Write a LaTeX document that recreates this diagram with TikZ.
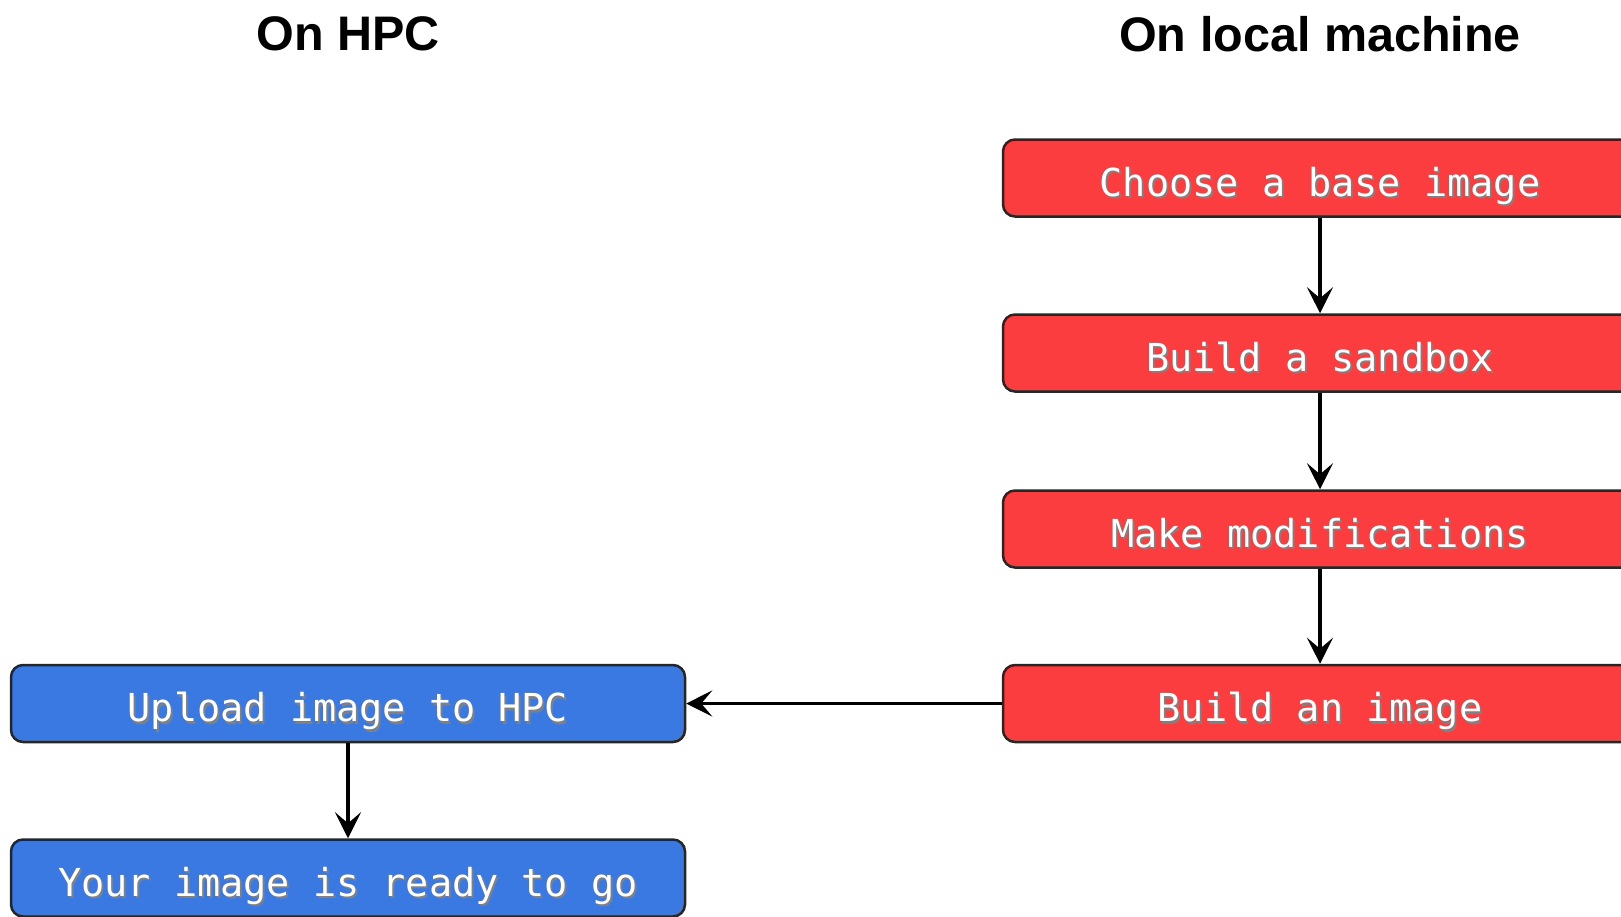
\documentclass[tikz,border=0pt]{standalone}
\usepackage{fontspec}
\setmainfont{Liberation Sans}
\newfontfamily\boxfont{DejaVu Sans Mono}
\usetikzlibrary{arrows.meta}

\definecolor{localred}{HTML}{FC3D40}
\definecolor{hpcblue}{HTML}{3A79E2}

% white label text with a soft drop shadow
\newcommand\shadowed[1]{\rlap{\kern2pt\raisebox{-2.5pt}{\textcolor{black!50}{#1}}}#1}

\tikzset{
  stepbox/.style={draw=black!85, line width=2.5pt, rounded corners=12pt,
    minimum height=77pt, inner sep=0pt, text=white,
    text height=40pt, text depth=4pt,
    font=\boxfont\fontsize{38.5}{40}\selectfont},
  localbox/.style={stepbox, fill=localred, minimum width=634pt},
  hpcbox/.style={stepbox, fill=hpcblue, minimum width=674pt},
  heading/.style={font=\bfseries\fontsize{48.5}{54}\selectfont},
  flow/.style={line width=3.5pt, -{Stealth[length=26pt, width=26pt, inset=11pt]}},
}

\begin{document}
\begin{tikzpicture}[x=1pt, y=-1pt]
\useasboundingbox (0,0) rectangle (1621,916);

\node[heading] (hhpc)   at (348,34)  {On HPC};
\node[heading] (hlocal) at (1320,34) {On local machine};

\node[localbox] (choose)  at (1320,178)   {\shadowed{Choose a base image}};
\node[localbox] (sandbox) at (1320,353)   {\shadowed{Build a sandbox}};
\node[localbox] (modify)  at (1320,529)   {\shadowed{Make modifications}};
\node[localbox] (build)   at (1320,703.5) {\shadowed{Build an image}};

\node[hpcbox] (upload) at (348,703.5) {\shadowed{Upload image to HPC}};
\node[hpcbox] (ready)  at (348,878)   {\shadowed{Your image is ready to go}};

\draw[flow] (choose.south)  -- (sandbox.north);
\draw[flow] (sandbox.south) -- (modify.north);
\draw[flow] (modify.south)  -- (build.north);
\draw[flow] (build.west)    -- (upload.east);
\draw[flow] (upload.south)  -- (ready.north);
\end{tikzpicture}
\end{document}
